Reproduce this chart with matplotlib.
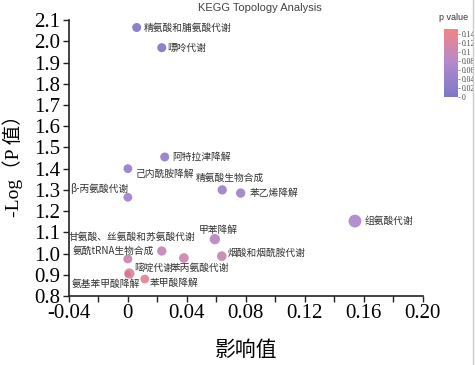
import numpy as np
import matplotlib
matplotlib.use("Agg")
import matplotlib.pyplot as plt
from matplotlib.colors import LinearSegmentedColormap
from matplotlib.lines import Line2D

# 通路名称, 影响值, -log(p)
pathways = ["精氨酸和脯氨酸代谢", "嘌呤代谢", "阿特拉津降解", "己内酰胺降解",
            "精氨酸生物合成", "苯乙烯降解", "β-丙氨酸代谢", "组氨酸代谢",
            "甲苯降解", "甘氨酸、丝氨酸和苏氨酸代谢", "氨酰tRNA生物合成",
            "烟酸和烟酰胺代谢", "苯丙氨酸代谢", "嘧啶代谢", "氨基苯甲酸降解",
            "苯甲酸降解"]
impact = [0.006, 0.023, 0.025, 0.0, 0.064, 0.0765, 0.0, 0.154,
          0.059, 0.0, 0.023, 0.0637, 0.038, 0.001, 0.0, 0.0115]
neglogp = [2.065, 1.97, 1.455, 1.40, 1.30, 1.285, 1.265, 1.153,
           1.068, 0.975, 1.012, 0.988, 0.979, 0.906, 0.904, 0.88]

xticks = [-0.04, -0.02, 0, 0.02, 0.04, 0.06, 0.08, 0.10, 0.12, 0.14, 0.16, 0.18, 0.20]
xticklabels = ["-0.04", "", "0", "", "0.04", "", "0.08", "", "0.12", "", "0.16", "", "0.20"]
yticks = [0.8, 0.9, 1.0, 1.1, 1.2, 1.3, 1.4, 1.5, 1.6, 1.7, 1.8, 1.9, 2.0, 2.1]
cbar_ticks = [0, 0.02, 0.04, 0.06, 0.08, 0.1, 0.12, 0.14]
cbar_labels = ["0", "0.02", "0.04", "0.06", "0.08", "0.1", "0.12", "0.14"]

# 点大小和标签位置 (像素偏移)
sizes = [42, 42, 42, 40, 45, 45, 40, 85, 55, 42, 45, 48, 48, 55, 20, 40]
offsets = [(7, 0, "left"), (5, 0, "left"), (8, 0, "left"), (8, -5, "left"),
           (8, 12, "center"), (9, 0, "left"), (1, 9, "right"), (10, 0, "left"),
           (3, 9, "center"), (4, 22, "center"), (-8, 0, "right"), (6, 3, "left"),
           (16, -10, "center"), (5, 6, "left"), (12, -10, "right"), (5, -4, "left")]

serif = ["Liberation Serif", "DejaVu Serif"]
cjk = ["Noto Sans CJK SC", "DejaVu Sans"]

pvals = 10 ** (-np.array(neglogp))
cmap = LinearSegmentedColormap.from_list("pv", ["#6660bc", "#a474c6", "#f07070"])

fig = plt.figure(figsize=(4.75, 3.65), dpi=100)
ax = fig.add_axes([0.145, 0.189, 0.745, 0.756])

sc = ax.scatter(impact, neglogp, s=sizes, c=pvals, cmap=cmap, vmin=0, vmax=0.15,
                alpha=0.8, edgecolors="none", zorder=3)

for name, x, y, (dx, dy, ha) in zip(pathways, impact, neglogp, offsets):
    ax.annotate(name, (x, y), xytext=(dx, dy), textcoords="offset pixels",
                ha=ha, va="center", fontsize=7, family=cjk, color="#333333")

ax.set_xlim(-0.04, 0.20)
ax.set_ylim(0.8, 2.1)
ax.set_xticks(xticks)
ax.set_xticklabels(xticklabels, family=serif, fontsize=15)
ax.set_yticks(yticks)
ax.set_yticklabels(["%.1f" % v for v in yticks], family=serif, fontsize=15)
ax.tick_params(axis="both", length=4, width=1, color="#222222", pad=2)
for s in ["top", "right"]:
    ax.spines[s].set_visible(False)
for s in ["left", "bottom"]:
    ax.spines[s].set_color("#222222")
    ax.spines[s].set_linewidth(1.2)

ax.set_xlabel("影响值", family=cjk, fontsize=15, labelpad=11)
ax.set_ylabel("-Log（P 值）", family=serif + cjk, fontsize=14)
ax.yaxis.set_label_coords(-0.13, 0.49)

fig.text(0.548, 0.978, "KEGG Topology Analysis", ha="center", va="center",
         fontsize=8, family=["Liberation Sans"], color="#444444")

cax = fig.add_axes([0.935, 0.734, 0.029, 0.186])
cb = fig.colorbar(sc, cax=cax, ticks=cbar_ticks)
cb.solids.set_alpha(0.85)
cb.outline.set_visible(False)
cb.ax.set_yticklabels(cbar_labels, family=serif, fontsize=5.5, color="#444444")
cb.ax.tick_params(length=1.5, width=0.5, pad=1, color="#666666")
fig.text(0.955, 0.953, "p value", ha="center", va="center", fontsize=6.5,
         family=["Liberation Sans"], color="#333333")

fig.add_artist(Line2D([0.995, 0.995], [0, 1], transform=fig.transFigure,
                      color="#cccccc", lw=1))

fig.savefig("out.png", dpi=100)
